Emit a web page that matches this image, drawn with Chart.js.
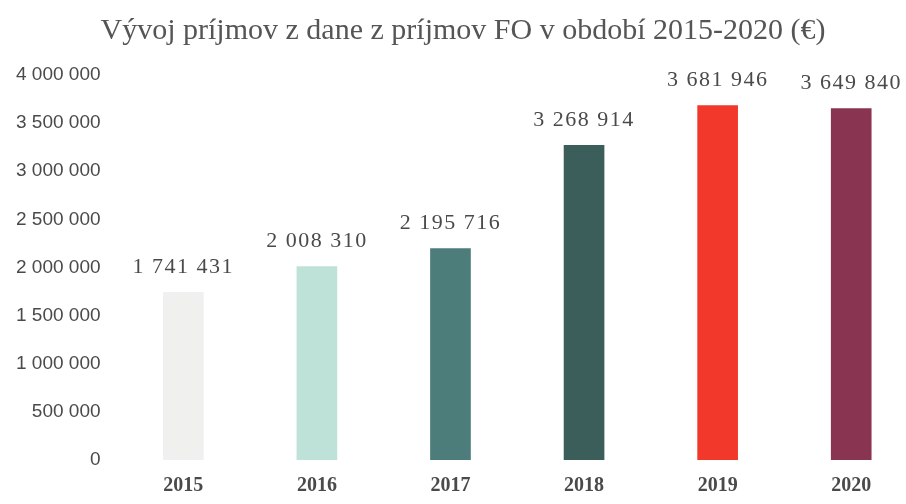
<!DOCTYPE html>
<html>
<head>
<meta charset="utf-8">
<script src="https://cdn.jsdelivr.net/npm/chart.js@4"></script>
<style>
  body { margin: 0; background: #fff; overflow: hidden; }
  #wrap { width: 906px; height: 504px; overflow: hidden; }
</style>
</head>
<body>
<div id="wrap"><canvas id="barChart" width="918" height="504"></canvas></div>
<script>
const roky = ['2015', '2016', '2017', '2018', '2019', '2020'];
const prijmy = [1741431, 2008310, 2195716, 3268914, 3681946, 3649840];
const farby = ['#f0f0ee', '#bfe2d8', '#4d7d7a', '#3c5e5b', '#f2382a', '#893450'];
const nadpis = 'Vývoj príjmov z dane z príjmov FO v období 2015-2020 (€)';

function fmt(v) {
  return String(v).replace(/\B(?=(\d{3})+(?!\d))/g, ' ');
}

const popisky = {
  id: 'popisky',
  afterDatasetsDraw(chart) {
    const ctx = chart.ctx;
    const meta = chart.getDatasetMeta(0);
    ctx.save();
    ctx.font = '22px "Liberation Serif"';
    ctx.letterSpacing = '1.5px';
    ctx.fillStyle = '#4a4a4a';
    ctx.textAlign = 'center';
    ctx.textBaseline = 'bottom';
    meta.data.forEach((bar, i) => {
      ctx.fillText(fmt(prijmy[i]), bar.x, bar.y - 14);
    });
    ctx.restore();
  }
};

const ctx = document.getElementById('barChart').getContext('2d');
new Chart(ctx, {
  type: 'bar',
  data: {
    labels: roky,
    datasets: [{
      data: prijmy,
      backgroundColor: farby,
      borderWidth: 0,
      barThickness: 40
    }]
  },
  options: {
    responsive: false,
    animation: false,
    layout: { padding: { left: 8, right: 0, top: 0, bottom: 0 } },
    plugins: {
      legend: { display: false },
      tooltip: { enabled: false },
      title: {
        display: true,
        text: nadpis,
        color: '#555',
        font: { family: 'Liberation Serif', size: 30, weight: 'normal' },
        padding: { top: 13, bottom: 26 }
      }
    },
    scales: {
      x: {
        grid: { display: false },
        border: { display: false },
        ticks: {
          color: '#4a4a4a',
          font: { family: 'Liberation Serif', size: 20, weight: 'bold' },
          padding: 6
        }
      },
      y: {
        min: 0,
        max: 4000000,
        grid: { display: false },
        border: { display: false },
        ticks: {
          stepSize: 500000,
          color: '#4a4a4a',
          font: { family: 'Liberation Sans', size: 19 },
          padding: 8,
          callback: (v) => fmt(v)
        }
      }
    }
  },
  plugins: [popisky]
});
</script>
</body>
</html>
